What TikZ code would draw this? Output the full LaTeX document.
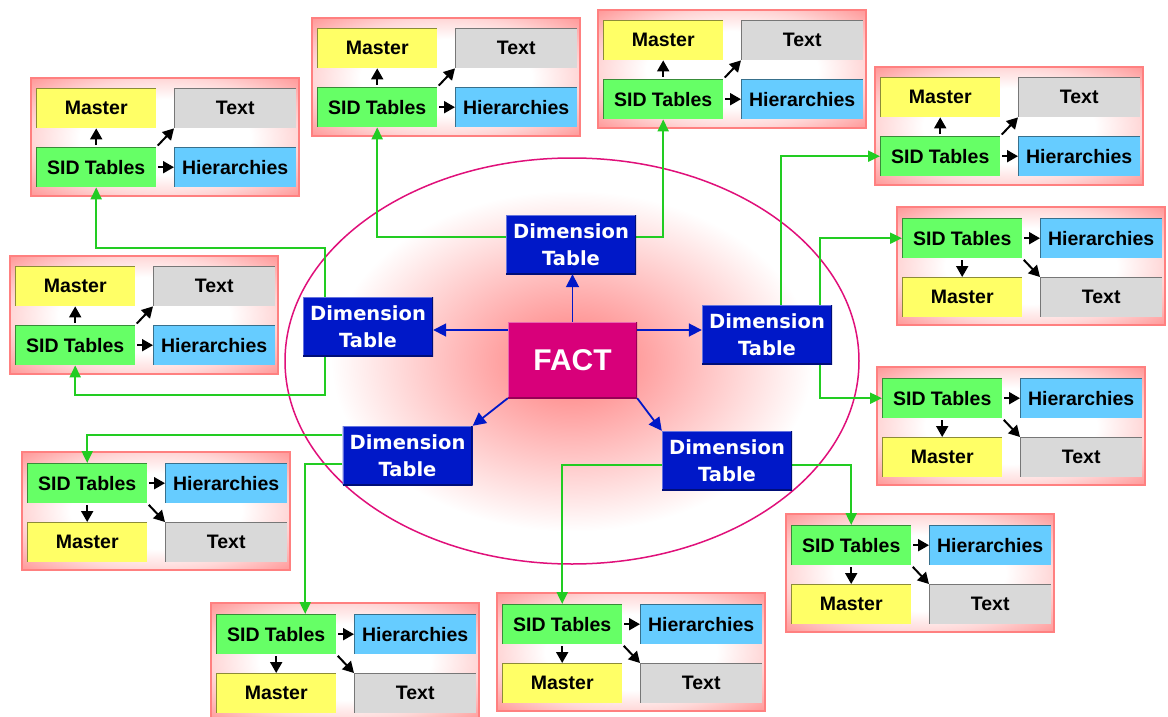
\documentclass[tikz,border=0pt]{standalone}
\usepackage{fontspec}
\setmainfont{Liberation Sans}
\newfontfamily\dimfont{DejaVu Sans}
\usetikzlibrary{arrows.meta}
\definecolor{mastery}{HTML}{FFFF66}
\definecolor{textg}{HTML}{D9D9D9}
\definecolor{sidg}{HTML}{66FF66}
\definecolor{hierb}{HTML}{66CCFF}
\definecolor{dimb}{HTML}{0018C8}
\definecolor{factm}{HTML}{D8007A}
\definecolor{ellb}{HTML}{E0107A}
\definecolor{conng}{HTML}{22CC22}
\definecolor{cbord}{HTML}{FF8080}
\definecolor{pinkc}{HTML}{FF9494}
\pgfdeclarelayer{bg}
\pgfdeclarelayer{conn}
\pgfsetlayers{bg,conn,main}
\pgfdeclareradialshading{ellsh}{\pgfpoint{0bp}{0bp}}{color(0bp)=(pinkc); color(4bp)=(pinkc); color(21bp)=(white); color(25bp)=(white); color(50bp)=(white)}
\pgfdeclareradialshading{boxsh}{\pgfpoint{0bp}{0bp}}{color(0bp)=(white); color(16bp)=(white); color(25bp)=(red!16); color(36bp)=(red!42); color(50bp)=(red!42)}
\tikzset{
  cl/.style={draw=cbord, line width=1.5pt, shading=boxsh},
  ib/.style={minimum height=40pt, inner sep=0pt, font=\bfseries\fontsize{19.5}{19.5}\selectfont, text=black},
  mst/.style={ib, minimum width=120pt, fill=mastery, path picture={\draw[line width=2pt, mastery!55!black] (path picture bounding box.south west) |- (path picture bounding box.north east);}},
  txt/.style={ib, minimum width=122pt, fill=textg, path picture={\draw[line width=2pt, textg!55!black] (path picture bounding box.south west) |- (path picture bounding box.north east);}},
  sid/.style={ib, minimum width=120pt, fill=sidg, path picture={\draw[line width=2pt, sidg!55!black] (path picture bounding box.south west) |- (path picture bounding box.north east);}},
  hie/.style={ib, minimum width=122pt, fill=hierb, path picture={\draw[line width=2pt, hierb!55!black] (path picture bounding box.south west) |- (path picture bounding box.north east);}},
  dim/.style={minimum width=130pt, minimum height=59pt, inner sep=0pt, fill=dimb, text=white, align=center,
    font=\dimfont\bfseries\fontsize{19.5}{27}\selectfont,
    path picture={\draw[line width=2.5pt, dimb!60!white] (path picture bounding box.south west) |- (path picture bounding box.north east);
                  \draw[line width=2.5pt, dimb!60!black] (path picture bounding box.south west) -| (path picture bounding box.north east);}},
  fact/.style={minimum width=129pt, minimum height=76pt, inner sep=0pt, fill=factm, text=white,
    font=\bfseries\fontsize{30}{30}\selectfont,
    path picture={\draw[line width=2.5pt, factm!60!white] (path picture bounding box.south west) |- (path picture bounding box.north east);
                  \draw[line width=2.5pt, factm!70!black] (path picture bounding box.south west) -| (path picture bounding box.north east);}},
  gc/.style={draw=conng, line width=2pt, -{Triangle[length=12pt,width=11pt]}},
  bl/.style={draw=dimb, line width=1.8pt, -{Triangle[length=13pt,width=13pt]}},
  blk/.style={draw=black, line width=2pt, shorten <=2pt, -{Triangle[length=11pt,width=12pt]}}
}
\newcommand{\clA}[3]{%
  \begin{pgfonlayer}{bg}
    \shade[cl] (#2,#3) rectangle ++(268,118);
  \end{pgfonlayer}
  \node[mst,anchor=north west] (#1m) at (#2+5,#3+10) {Master};
  \node[txt,anchor=north west] (#1t) at (#2+143,#3+10) {Text};
  \node[sid,anchor=north west] (#1s) at (#2+5,#3+69) {SID Tables};
  \node[hie,anchor=north west] (#1h) at (#2+143,#3+69) {Hierarchies};
  \draw[blk] (#1s.north) -- (#1m.south);
  \draw[blk] (#1s.east) -- (#1h.west);
  \draw[blk] (#1s.north east) -- (#1t.south west);
}
\newcommand{\clB}[3]{%
  \begin{pgfonlayer}{bg}
    \shade[cl] (#2,#3) rectangle ++(268,118);
  \end{pgfonlayer}
  \node[sid,anchor=north west] (#1s) at (#2+5,#3+11) {SID Tables};
  \node[hie,anchor=north west] (#1h) at (#2+143,#3+11) {Hierarchies};
  \node[mst,anchor=north west] (#1m) at (#2+5,#3+70) {Master};
  \node[txt,anchor=north west] (#1t) at (#2+143,#3+70) {Text};
  \draw[blk] (#1s.south) -- (#1m.north);
  \draw[blk] (#1s.east) -- (#1h.west);
  \draw[blk] (#1s.south east) -- (#1t.north west);
}
\begin{document}
\begin{tikzpicture}[x=1pt,y=-1pt]
\useasboundingbox (0,0) rectangle (1168,717);
\begin{pgfonlayer}{bg}
  \fill[white] (0,0) rectangle (1168,717);
  \shade[shading=ellsh, draw=ellb, line width=1.5pt] (572,361) ellipse [x radius=287pt, y radius=203pt];
\end{pgfonlayer}

% clusters
\clA{a1}{31}{78}
\clA{a2}{312}{18}
\clA{a3}{598}{10}
\clA{a4}{875}{67}
\clA{a5}{10}{256}
\clB{b1}{897}{207}
\clB{b2}{877}{367}
\clB{b3}{22}{452}
\clB{b4}{786}{514}
\clB{b5}{211}{603}
\clB{b6}{497}{593}

% dimension tables and fact
\node[dim] (dtop) at (571,244.5) {Dimension\\Table};
\node[dim] (dleft) at (368,326.5) {Dimension\\Table};
\node[dim] (dright) at (767,334.5) {Dimension\\Table};
\node[dim] (dbl) at (407.5,455.5) {Dimension\\Table};
\node[dim] (dbr) at (727,460.5) {Dimension\\Table};
\node[fact] (fact) at (572.5,360) {FACT};

% green connectors
\begin{pgfonlayer}{conn}
  \draw[gc] ([yshift=7.5pt]dtop.west) -| (a2s.south);
  \draw[gc] ([yshift=7.5pt]dtop.east) -| (a3s.south);
  \draw[gc] ([xshift=14pt]dright.north) |- (a4s.west);
  \draw[gc] ([xshift=53pt]dright.north) |- (b1s.west);
  \draw[gc] ([xshift=53pt]dright.south) |- (b2s.west);
  \draw[gc] ([xshift=-43pt]dleft.north) -- ++(0,-49) -| (a1s.south);
  \draw[gc] ([xshift=-43pt]dleft.south) -- ++(0,39) -| (a5s.south);
  \draw[gc] ([yshift=20.5pt]dbl.west) -| (b3s.north);
  \draw[gc] ([yshift=-8.5pt]dbl.west) -| ([xshift=29pt]b5s.north);
  \draw[gc] ([yshift=-4pt]dbr.west) -| (b6s.north);
  \draw[gc] ([yshift=-4pt]dbr.east) -| (b4s.north);
\end{pgfonlayer}

% blue arrows
\coordinate (fl) at ([yshift=30pt]fact.west);
\coordinate (fr) at ([yshift=30pt]fact.east);
\draw[bl] (fact.north) -- (fact.north |- dtop.south);
\draw[bl] (fl) -- (fl -| dleft.east);
\draw[bl] (fr) -- (fr -| dright.west);
\draw[bl] (fact.south west) -- (dbl.north east);
\draw[bl] (fact.south east) -- (dbr.north west);
\end{tikzpicture}
\end{document}
